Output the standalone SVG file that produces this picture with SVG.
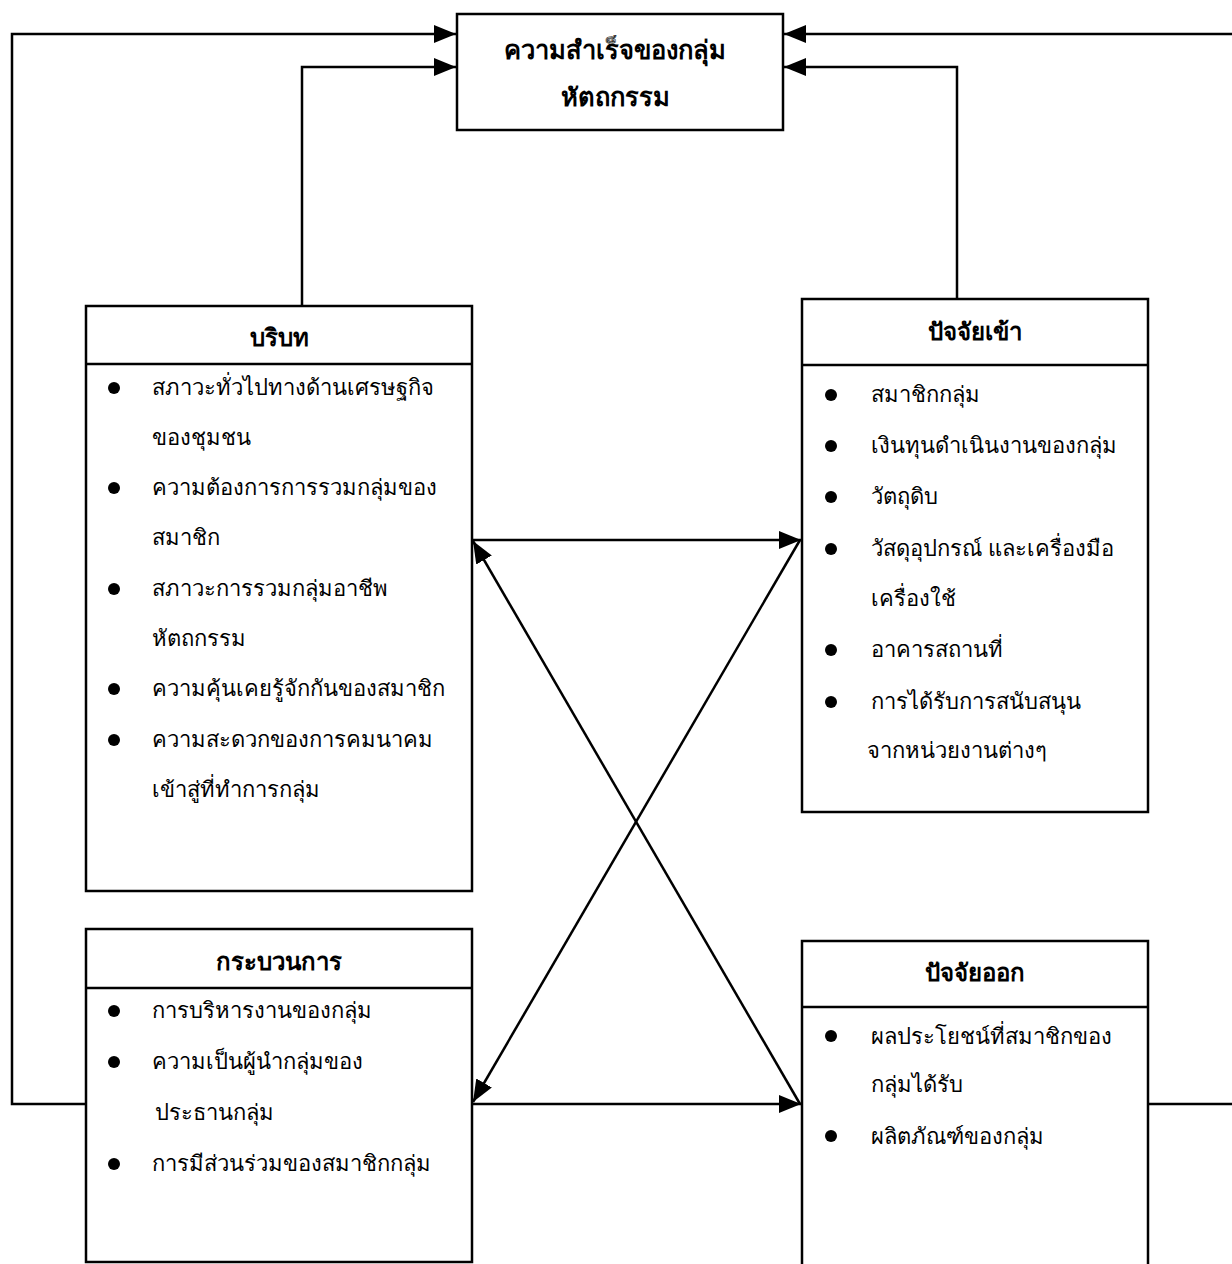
<svg xmlns="http://www.w3.org/2000/svg" width="1232" height="1264" viewBox="0 0 1232 1264">
<defs>
<style>
.box{fill:#fff;stroke:#000;stroke-width:2.5}
.div{stroke:#000;stroke-width:2.5}
.ln{fill:none;stroke:#000;stroke-width:2.5}
.t{font-family:"Liberation Sans","Noto Sans",sans-serif;font-size:22px;fill:#000}
.h{font-family:"Liberation Sans","Noto Sans",sans-serif;font-size:24px;font-weight:bold;fill:#000;text-anchor:middle}
.tt{font-family:"Liberation Sans","Noto Sans",sans-serif;font-size:25.5px;font-weight:bold;fill:#000;text-anchor:middle}
.b{fill:#000}
</style>
<marker id="ah" viewBox="0 0 22 18" refX="22" refY="9" markerWidth="22" markerHeight="18" markerUnits="userSpaceOnUse" orient="auto">
<path d="M0,0 L22,9 L0,18 Z" fill="#000"/>
</marker>
</defs>
<rect width="1232" height="1264" fill="#fff"/>

<g id="connectors">
<polyline class="ln" points="85,1104 12,1104 12,34 456,34" marker-end="url(#ah)"/>
<polyline class="ln" points="302,305 302,67 456,67" marker-end="url(#ah)"/>
<polyline class="ln" points="1148,1104 1232,1104"/>
<polyline class="ln" points="1232,34 784,34" marker-end="url(#ah)"/>
<polyline class="ln" points="957,299 957,67 784,67" marker-end="url(#ah)"/>
<line class="ln" x1="472" y1="540" x2="801" y2="540" marker-end="url(#ah)"/>
<line class="ln" x1="472" y1="1104" x2="801" y2="1104" marker-end="url(#ah)"/>
<line class="ln" x1="800" y1="1104" x2="473" y2="541" marker-end="url(#ah)"/>
<line class="ln" x1="800" y1="540" x2="473" y2="1102" marker-end="url(#ah)"/>
</g>

<g id="node-success">
<rect class="box" x="457" y="14" width="326" height="116"/>
<text class="tt" x="615" y="59">ความสำเร็จของกลุ่ม</text>
<text class="tt" x="615" y="106">หัตถกรรม</text>
</g>

<g id="node-context">
<rect class="box" x="86" y="306" width="386" height="585"/>
<line class="div" x1="86" y1="364" x2="472" y2="364"/>
<text class="h" x="279" y="346">บริบท</text>
<circle class="b" cx="114" cy="388" r="6"/>
<text class="t" x="152" y="395">สภาวะทั่วไปทางด้านเศรษฐกิจ</text>
<text class="t" x="152" y="445">ของชุมชน</text>
<circle class="b" cx="114" cy="488" r="6"/>
<text class="t" x="152" y="495">ความต้องการการรวมกลุ่มของ</text>
<text class="t" x="152" y="545">สมาชิก</text>
<circle class="b" cx="114" cy="589" r="6"/>
<text class="t" x="152" y="596">สภาวะการรวมกลุ่มอาชีพ</text>
<text class="t" x="152" y="646">หัตถกรรม</text>
<circle class="b" cx="114" cy="689" r="6"/>
<text class="t" x="152" y="696">ความคุ้นเคยรู้จักกันของสมาชิก</text>
<circle class="b" cx="114" cy="740" r="6"/>
<text class="t" x="152" y="747">ความสะดวกของการคมนาคม</text>
<text class="t" x="152" y="797">เข้าสู่ที่ทำการกลุ่ม</text>
</g>

<g id="node-input">
<rect class="box" x="802" y="299" width="346" height="513"/>
<line class="div" x1="802" y1="365" x2="1148" y2="365"/>
<text class="h" x="975" y="340">ปัจจัยเข้า</text>
<circle class="b" cx="831" cy="395" r="6"/>
<text class="t" x="871" y="402">สมาชิกกลุ่ม</text>
<circle class="b" cx="831" cy="446" r="6"/>
<text class="t" x="871" y="453">เงินทุนดำเนินงานของกลุ่ม</text>
<circle class="b" cx="831" cy="497" r="6"/>
<text class="t" x="871" y="504">วัตถุดิบ</text>
<circle class="b" cx="831" cy="549" r="6"/>
<text class="t" x="871" y="556">วัสดุอุปกรณ์ และเครื่องมือ</text>
<text class="t" x="871" y="606">เครื่องใช้</text>
<circle class="b" cx="831" cy="650" r="6"/>
<text class="t" x="871" y="657">อาคารสถานที่</text>
<circle class="b" cx="831" cy="702" r="6"/>
<text class="t" x="871" y="709">การได้รับการสนับสนุน</text>
<text class="t" x="867" y="758">จากหน่วยงานต่างๆ</text>
</g>

<g id="node-process">
<rect class="box" x="86" y="929" width="386" height="333"/>
<line class="div" x1="86" y1="988" x2="472" y2="988"/>
<text class="h" x="279" y="970">กระบวนการ</text>
<circle class="b" cx="114" cy="1011" r="6"/>
<text class="t" x="152" y="1018">การบริหารงานของกลุ่ม</text>
<circle class="b" cx="114" cy="1062" r="6"/>
<text class="t" x="152" y="1069">ความเป็นผู้นำกลุ่มของ</text>
<text class="t" x="155" y="1120">ประธานกลุ่ม</text>
<circle class="b" cx="114" cy="1164" r="6"/>
<text class="t" x="152" y="1171">การมีส่วนร่วมของสมาชิกกลุ่ม</text>
</g>

<g id="node-output">
<rect class="box" x="802" y="941" width="346" height="340"/>
<line class="div" x1="802" y1="1007" x2="1148" y2="1007"/>
<text class="h" x="975" y="981">ปัจจัยออก</text>
<circle class="b" cx="831" cy="1036" r="6"/>
<text class="t" x="871" y="1044">ผลประโยชน์ที่สมาชิกของ</text>
<text class="t" x="871" y="1092">กลุ่มได้รับ</text>
<circle class="b" cx="831" cy="1136" r="6"/>
<text class="t" x="871" y="1144">ผลิตภัณฑ์ของกลุ่ม</text>
</g>
</svg>
